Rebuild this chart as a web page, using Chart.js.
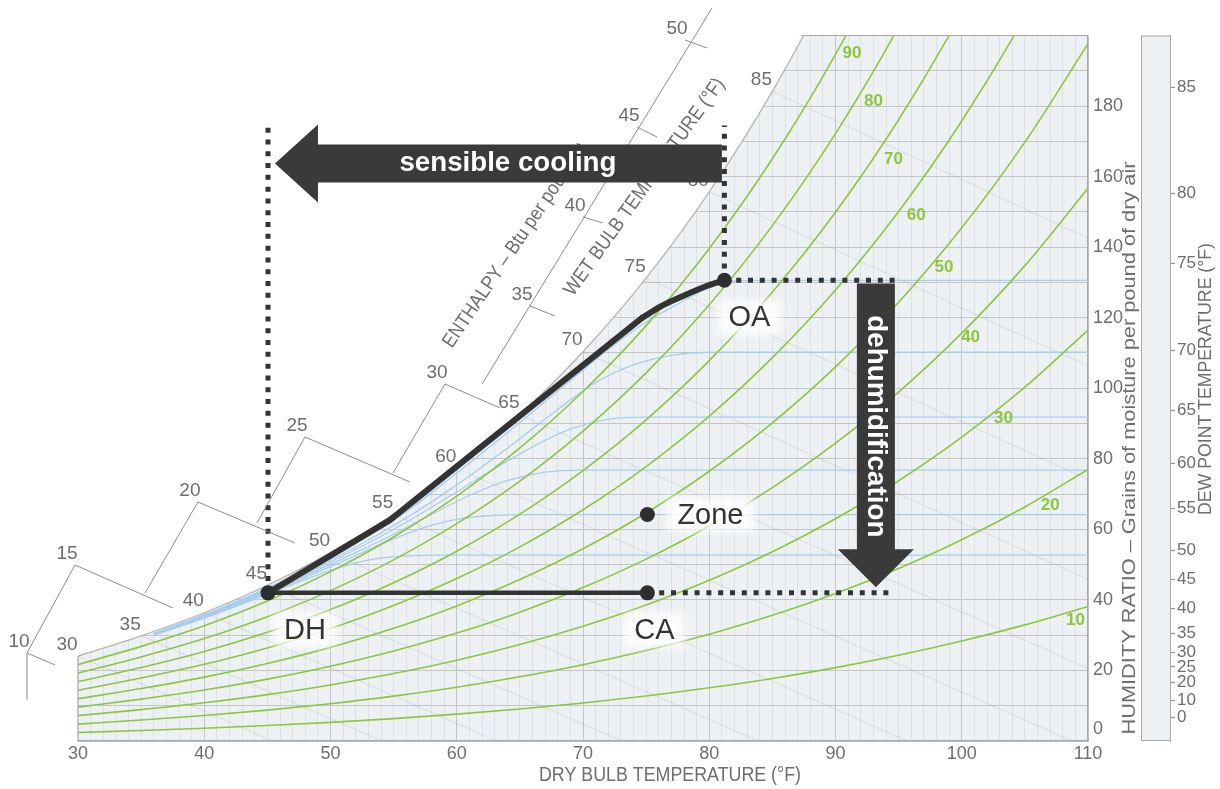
<!DOCTYPE html>
<html lang="en">
<head>
<meta charset="utf-8">
<title>Psychrometric chart – dehumidification process</title>
<script src="https://cdn.jsdelivr.net/npm/chart.js@4.4.1/dist/chart.umd.min.js"></script>
<style>
  html, body { margin: 0; padding: 0; background: #ffffff; }
  #wrap { width: 1220px; height: 789px; position: relative; }
</style>
</head>
<body>
<div id="wrap"><canvas id="chart"></canvas></div>
<script>
// ---------- psychrometric background (sea level, 14.696 psia) ----------
const PATM = 14.696;
const tableTemps  = [30, 35, 40, 45, 50, 55, 60, 65, 70, 75, 80, 85, 90, 95, 100, 105, 110];
const satPressure = [0.0808, 0.1000, 0.1217, 0.1475, 0.1781, 0.2141, 0.2563, 0.3057, 0.3633, 0.4300, 0.5073, 0.5964, 0.6988, 0.8162, 0.9503, 1.1030, 1.2763];
const satTopTemp = 87.3;            // saturation reaches the 200-grain top edge here

const rhLevels      = [10, 20, 30, 40, 50, 60, 70, 80, 90];
const rhLabelTemps  = [109.0, 107.0, 103.3, 100.7, 98.6, 96.4, 94.6, 93.0, 91.3];
const rhLabelGrains = [34.3, 66.9, 91.5, 114.4, 134.3, 149.0, 165.0, 181.3, 194.9];

const wetBulbTemps = [30, 35, 40, 45, 50, 55, 60, 65, 70, 75, 80, 85];

const dryBulbLabels  = [30, 40, 50, 60, 70, 80, 90, 100, 110];
const grainLabels    = [0, 20, 40, 60, 80, 100, 120, 140, 160, 180];
const dewPointLabels = [85, 80, 75, 70, 65, 60, 55, 50, 45, 40, 35, 30, 25, 20, 10, 0];
const dewPointGrains = [185.4, 155.2, 135.4, 110.8, 93.8, 78.8, 66.0, 54.1, 45.9, 37.7, 30.6, 25.2, 21.0, 16.7, 11.6, 6.8];

// enthalpy scale (Btu/lb) drawn outside the saturation curve, in °F / grains
const enthalpyValues    = [10, 15, 20, 25, 30, 35, 40, 45, 50];
const enthalpyTickStart = [[25.96, 24.95], [29.76, 49.89], [39.50, 67.75], [47.98, 86.18], [59.07, 101.20], [65.80, 123.32], [70.00, 148.55], [74.28, 174.06], [78.08, 198.72]];
const enthalpyTickEnd   = [[28.18, 21.55], [37.52, 37.70], [47.19, 56.13], [56.30, 73.42], [63.43, 94.40], [67.78, 120.48], [71.58, 146.85], [75.86, 171.23], [79.82, 196.46]];
const enthalpyRisers = [
  [[25.96, 11.62], [25.96, 24.95]],
  [[25.96, 24.95], [29.76, 49.89]],
  [[35.31, 41.96], [39.50, 67.75]],
  [[44.18, 61.80], [47.98, 86.18]],
  [[54.95, 75.97], [59.07, 101.20]],
  [[62.00, 101.20], [80.22, 207.80]]
];

// coil leaving-condition curves (°F, grains)
const coilCurveA = [[36,30.5],[40,35.8],[44,41.8],[48,48.4],[52,56.0],[56,65.0],[60,76.0],[64,87.4],[68,99.2],[72,111.0],[75,118.8],[78,124.8],[80,128.6],[82,130.4],[84,130.6],[110,130.6]];
const coilCurveB = [[36,30.4],[40,35.6],[44,41.5],[48,47.8],[52,55.0],[56,63.2],[60,72.6],[64,83.0],[68,94.0],[71,101.6],[74,106.6],[77,109.3],[80,110.2],[110,110.2]];
const coilCurveC = [[36,30.3],[40,35.4],[44,41.2],[48,47.4],[52,54.3],[56,62.0],[60,70.6],[63,77.2],[66,83.4],[69,88.4],[72,91.2],[75,91.8],[110,91.8]];
const coilCurveD = [[36,30.2],[40,35.2],[44,40.9],[48,46.9],[52,53.4],[55,58.6],[58,64.2],[61,69.6],[64,73.8],[67,76.2],[70,76.8],[110,76.8]];
const coilCurveE = [[36,30.1],[40,35.0],[44,40.6],[48,46.4],[51,51.0],[54,55.8],[57,60.0],[60,62.8],[63,64.0],[66,64.2],[110,64.2]];
const coilCurveF = [[36,30.0],[40,34.8],[44,40.2],[47,44.4],[50,48.4],[53,51.3],[56,52.5],[59,52.7],[110,52.7]];

// ---------- process: outdoor air -> dehumidified -> conditioned air ----------
const processTemps  = [45.05, 54.7, 74.7];
const processGrains = [42.0, 62.6, 120.0];
const processBendTemps  = [74.7, 76.2, 77.7, 79.6, 81.2];
const processBendGrains = [120.0, 123.3, 125.8, 128.7, 130.6];

const stateNames  = ['OA', 'DH', 'CA', 'Zone'];
const stateTemps  = [81.2, 45.05, 75.1, 75.1];
const stateGrains = [130.6, 42.0, 42.0, 64.2];

const guideTopGrains = 174.5;
const oaGuideEndTemp = 95.1;
const caGuideEndTemp = 94.5;

const coolingArrowTemps  = [81.0, 45.6];   // tail, tip
const coolingArrowGrains = 163.7;
const dehumArrowTemp     = 93.2;
const dehumArrowGrains   = [129.7, 43.6];  // tail, tip

// ---------- helpers ----------
const grainsFromPv = pv => 7000 * 0.622 * pv / (PATM - pv);
const satGrains = satPressure.map(grainsFromPv);
const pts = (xs, ys) => xs.map((x, i) => ({ x, y: ys[i] }));
const pairPts = arr => arr.map(([x, y]) => ({ x, y }));

function wetBulbLine(twb) {
  const i = tableTemps.indexOf(twb);
  const ws = satGrains[i] / 7000;
  const a = (1093 - 0.556 * twb) * ws;
  const wAt = t => (a - 0.24 * (t - twb)) / (1093 + 0.444 * t - twb) * 7000;
  const tEnd = Math.min(110, twb + a / 0.24);
  return [{ x: twb, y: satGrains[i] }, { x: tEnd, y: Math.max(0, wAt(tEnd)) }];
}

const NARROW = "'Liberation Sans Narrow', 'Arial Narrow', 'Liberation Sans', Arial, sans-serif";
const SANS = "'Liberation Sans', Arial, sans-serif";
const GRAY_TEXT = '#6e6e6e';
const DARK = '#333333';
const TICK_FONT = `18px ${SANS}`;

// ---------- datasets ----------
const datasets = [];
datasets.push({ data: pts(tableTemps, satGrains), borderColor: '#b5b5b5', borderWidth: 1.3,
  fill: 'end', backgroundColor: '#ffffff', cubicInterpolationMode: 'monotone', pointRadius: 0, order: 100 });
wetBulbTemps.forEach(t => datasets.push({ data: wetBulbLine(t), borderColor: 'rgba(150,153,158,0.17)',
  borderWidth: 1.5, pointRadius: 0, fill: false, order: 95 }));
[coilCurveA, coilCurveB, coilCurveC, coilCurveD, coilCurveE, coilCurveF].forEach(c => datasets.push({
  data: pairPts(c), borderColor: '#a7cdee', borderWidth: 1.3, cubicInterpolationMode: 'monotone',
  pointRadius: 0, fill: false, order: 90 }));
rhLevels.forEach(rh => datasets.push({
  data: tableTemps.map((t, i) => ({ x: t, y: grainsFromPv(rh / 100 * satPressure[i]) })),
  borderColor: '#8cc63f', borderWidth: 1.6, cubicInterpolationMode: 'monotone', pointRadius: 0, fill: false, order: 80 }));

// process path
datasets.push({ data: pts(processTemps, processGrains), borderColor: DARK, borderWidth: 6, pointRadius: 0,
  tension: 0, borderJoinStyle: 'round', borderCapStyle: 'round', fill: false, order: 20 });
datasets.push({ data: pts(processBendTemps, processBendGrains), borderColor: DARK, borderWidth: 6, pointRadius: 0,
  cubicInterpolationMode: 'monotone', borderCapStyle: 'round', fill: false, order: 20 });
// DH -> CA reheat
datasets.push({ data: [{ x: stateTemps[1], y: stateGrains[1] }, { x: stateTemps[2], y: stateGrains[2] }],
  borderColor: DARK, borderWidth: 4.5, pointRadius: 0, fill: false, order: 19 });
// dotted guides
const dotted = { borderColor: DARK, borderWidth: 5, borderDash: [5, 6.8], pointRadius: 0, fill: false, order: 18, borderCapStyle: 'butt' };
datasets.push({ ...dotted, data: [{ x: stateTemps[1], y: stateGrains[1] }, { x: stateTemps[1], y: guideTopGrains }] });
datasets.push({ ...dotted, data: [{ x: stateTemps[0], y: stateGrains[0] }, { x: stateTemps[0], y: guideTopGrains }] });
datasets.push({ ...dotted, data: [{ x: stateTemps[0], y: stateGrains[0] }, { x: oaGuideEndTemp, y: stateGrains[0] }] });
datasets.push({ ...dotted, data: [{ x: stateTemps[2], y: stateGrains[2] }, { x: caGuideEndTemp, y: stateGrains[2] }] });
// state points
datasets.push({ data: pts(stateTemps, stateGrains), showLine: false, pointRadius: 7.5, pointHoverRadius: 7.5,
  pointBackgroundColor: '#2e2e2e', pointBorderWidth: 0, order: 1 });

// ---------- drawing helpers ----------
function fitText(ctx, text, x, y, angle, font, width, color, align = 'center', baseline = 'middle') {
  ctx.save();
  ctx.translate(x, y);
  ctx.rotate(angle);
  ctx.font = font;
  const m = ctx.measureText(text).width;
  if (width) ctx.scale(width / m, 1);
  ctx.fillStyle = color;
  ctx.textAlign = align;
  ctx.textBaseline = baseline;
  ctx.fillText(text, 0, 0);
  ctx.restore();
}

function arrowPath(ctx, tail, tip, bodyHalf, headHalf, headLen) {
  const dx = tip[0] - tail[0], dy = tip[1] - tail[1];
  const len = Math.hypot(dx, dy);
  ctx.save();
  ctx.translate(tail[0], tail[1]);
  ctx.rotate(Math.atan2(dy, dx));
  ctx.beginPath();
  ctx.moveTo(0, -bodyHalf);
  ctx.lineTo(len - headLen, -bodyHalf);
  ctx.lineTo(len - headLen, -headHalf);
  ctx.lineTo(len, 0);
  ctx.lineTo(len - headLen, headHalf);
  ctx.lineTo(len - headLen, bodyHalf);
  ctx.lineTo(0, bodyHalf);
  ctx.closePath();
  ctx.fill();
  ctx.restore();
}

const overlay = {
  id: 'overlay',
  beforeDraw(chart) {
    const { ctx, chartArea: a, scales } = chart;
    ctx.save();
    ctx.fillStyle = '#ffffff';
    ctx.fillRect(0, 0, chart.width, chart.height);
    ctx.fillStyle = '#eef1f4';
    ctx.fillRect(a.left, a.top, a.right - a.left, a.bottom - a.top);
    // dew point scale panel
    const left = scales.y2.left - 29;
    ctx.fillRect(left, a.top, 29, a.bottom - a.top);
    ctx.strokeStyle = '#a9a9a9';
    ctx.lineWidth = 1;
    ctx.strokeRect(left + 0.5, a.top + 0.5, 29, a.bottom - a.top - 1);
    ctx.restore();
  },
  afterDraw(chart) {
    const { ctx, chartArea: a, scales: { x, y } } = chart;
    const X = v => x.getPixelForValue(v), Y = v => y.getPixelForValue(v);
    ctx.save();

    // tidy the top edge above the saturation curve, then the frame pieces
    ctx.fillStyle = '#ffffff';
    ctx.fillRect(a.left - 1, a.top - 2, X(satTopTemp) - a.left - 3, 3);
    ctx.strokeStyle = '#a9a9a9';
    ctx.lineWidth = 1.2;
    ctx.beginPath();
    ctx.moveTo(X(satTopTemp), a.top); ctx.lineTo(a.right, a.top);
    ctx.moveTo(a.left, Y(0)); ctx.lineTo(a.left, Y(satGrains[0]));
    ctx.stroke();

    // zero grains label, lifted clear of the 110 °F label
    ctx.fillStyle = GRAY_TEXT;
    ctx.font = TICK_FONT;
    ctx.textAlign = 'left';
    ctx.textBaseline = 'middle';
    ctx.fillText(String(grainLabels[0]), a.right + 5, Y(0) - 12);

    // enthalpy scale
    ctx.strokeStyle = '#8e8e8e';
    ctx.lineWidth = 1;
    ctx.beginPath();
    enthalpyTickStart.forEach((s, i) => {
      const e = enthalpyTickEnd[i];
      ctx.moveTo(X(s[0]), Y(s[1])); ctx.lineTo(X(e[0]), Y(e[1]));
    });
    enthalpyRisers.forEach(([s, e]) => { ctx.moveTo(X(s[0]), Y(s[1])); ctx.lineTo(X(e[0]), Y(e[1])); });
    ctx.stroke();

    ctx.fillStyle = GRAY_TEXT;
    ctx.font = `19px ${SANS}`;
    ctx.textAlign = 'center';
    ctx.textBaseline = 'middle';
    enthalpyValues.forEach((h, i) => {
      const s = enthalpyTickStart[i];
      ctx.fillText(String(h), X(s[0]) - 8, Y(s[1]) - 11);
    });
    // wet bulb labels on the saturation curve
    wetBulbTemps.forEach(t => {
      const i = tableTemps.indexOf(t);
      ctx.fillText(String(t), X(t) - 11, Y(satGrains[i]) - 11.5);
    });

    // relative humidity labels
    ctx.fillStyle = '#8cc63f';
    ctx.font = `bold 17px ${SANS}`;
    rhLevels.forEach((rh, i) => ctx.fillText(String(rh), X(rhLabelTemps[i]), Y(rhLabelGrains[i])));

    const cy = Y(coolingArrowGrains);

    // slanted scale titles (the enthalpy title runs in under the cooling arrow)
    ctx.save();
    ctx.beginPath();
    ctx.rect(0, cy - 20, chart.width, chart.height);
    ctx.clip();
    fitText(ctx, 'ENTHALPY – Btu per pound of dry air', 452, 349, -56 * Math.PI / 180,
      `20px ${NARROW}`, 297, GRAY_TEXT, 'left', 'alphabetic');
    ctx.restore();
    fitText(ctx, 'WET BULB TEMPERATURE (°F)', 573, 297, -54.5 * Math.PI / 180,
      `20px ${NARROW}`, 262, GRAY_TEXT, 'left', 'alphabetic');

    // axis titles
    fitText(ctx, 'DRY BULB TEMPERATURE (°F)', 670, 775, 0, `20px ${NARROW}`, 262, GRAY_TEXT);
    fitText(ctx, 'HUMIDITY RATIO – Grains of moisture per pound of dry air', 1130, 448, -Math.PI / 2,
      `19px ${NARROW}`, 573, GRAY_TEXT);
    fitText(ctx, 'DEW POINT TEMPERATURE (°F)', 1206, 379, -Math.PI / 2, `19px ${NARROW}`, 272, GRAY_TEXT);

    // state point labels with a soft white backing
    const labelOffsets = [[25, 37, 'center'], [37, 37, 'center'], [7, 37, 'center'], [30, 0, 'left']];
    ctx.font = `29px ${SANS}`;
    stateNames.forEach((name, i) => {
      const [ox, oy, align] = labelOffsets[i];
      const lx = X(stateTemps[i]) + ox, ly = Y(stateGrains[i]) + oy;
      const w = ctx.measureText(name).width;
      const left = align === 'left' ? lx : lx - w / 2;
      ctx.save();
      ctx.filter = 'blur(4px)';
      ctx.fillStyle = 'rgba(255,255,255,0.85)';
      ctx.fillRect(left - 10, ly - 17, w + 20, 34);
      ctx.restore();
      ctx.fillStyle = DARK;
      ctx.textAlign = align;
      ctx.textBaseline = 'middle';
      ctx.fillText(name, lx, ly + 1);
    });

    // process arrows
    ctx.fillStyle = '#3a3a3a';
    const cTail = X(coolingArrowTemps[0]), cTip = X(coolingArrowTemps[1]);
    arrowPath(ctx, [cTail, cy], [cTip, cy], 19, 39, 43);
    fitText(ctx, 'sensible cooling', (cTail + cTip + 43) / 2 - 12, cy, 0, `bold 27px ${SANS}`, 217, '#ffffff');

    const dx = X(dehumArrowTemp);
    const dTail = Y(dehumArrowGrains[0]), dTip = Y(dehumArrowGrains[1]);
    arrowPath(ctx, [dx, dTail], [dx, dTip], 19, 38, 38);
    fitText(ctx, 'dehumidification', dx, (dTail + dTip - 38) / 2 + 10, Math.PI / 2, `bold 27px ${SANS}`, 222, '#ffffff');

    ctx.restore();
  }
};

Chart.defaults.font.family = SANS;

new Chart(document.getElementById('chart'), {
  type: 'line',
  data: { datasets },
  plugins: [overlay],
  options: {
    responsive: true,
    maintainAspectRatio: false,
    devicePixelRatio: 1,
    animation: false,
    events: [],
    layout: { padding: { left: 78, top: 35.5, right: 0, bottom: 0 } },
    plugins: { legend: { display: false }, tooltip: { enabled: false } },
    scales: {
      x: {
        type: 'linear', position: 'bottom', min: 30, max: 110,
        afterFit: s => { s.height = 48; },
        ticks: {
          stepSize: 1, autoSkip: false, maxRotation: 0, padding: 2,
          color: GRAY_TEXT, font: { family: SANS, size: 18 },
          callback: v => dryBulbLabels.includes(v) ? String(v) : ''
        },
        grid: {
          drawTicks: false,
          color: c => c.tick.value === 30 ? 'rgba(0,0,0,0)' : (c.tick.value % 10 === 0 ? '#c3c5c8' : '#dde1e5'),
          lineWidth: 1
        },
        border: { color: '#a9a9a9', width: 1.2 }
      },
      y: {
        type: 'linear', position: 'right', min: 0, max: 200, weight: 0,
        afterFit: s => { s.width = 82; },
        ticks: {
          stepSize: 10, autoSkip: false, padding: 5,
          color: GRAY_TEXT, font: { family: SANS, size: 18 },
          // zero is drawn by the overlay, nudged above the x labels
          callback: v => (v !== 0 && grainLabels.includes(v)) ? String(v) : ''
        },
        grid: {
          drawTicks: false,
          color: c => c.tick.value === 200 ? 'rgba(0,0,0,0)' : '#c3c5c8'
        },
        border: { color: '#a9a9a9', width: 1.2 }
      },
      y2: {
        type: 'linear', position: 'right', min: 0, max: 200, weight: 1,
        afterFit: s => { s.width = 50; },
        afterBuildTicks: s => { s.ticks = dewPointGrains.map(v => ({ value: v })); },
        ticks: {
          autoSkip: false, padding: 2, color: GRAY_TEXT, font: { family: SANS, size: 17 },
          callback: (v, i) => String(dewPointLabels[i])
        },
        grid: { drawOnChartArea: false, drawTicks: true, tickLength: 5, color: '#8f8f8f' },
        border: { color: '#a9a9a9', width: 1 }
      }
    }
  }
});
</script>
</body>
</html>
